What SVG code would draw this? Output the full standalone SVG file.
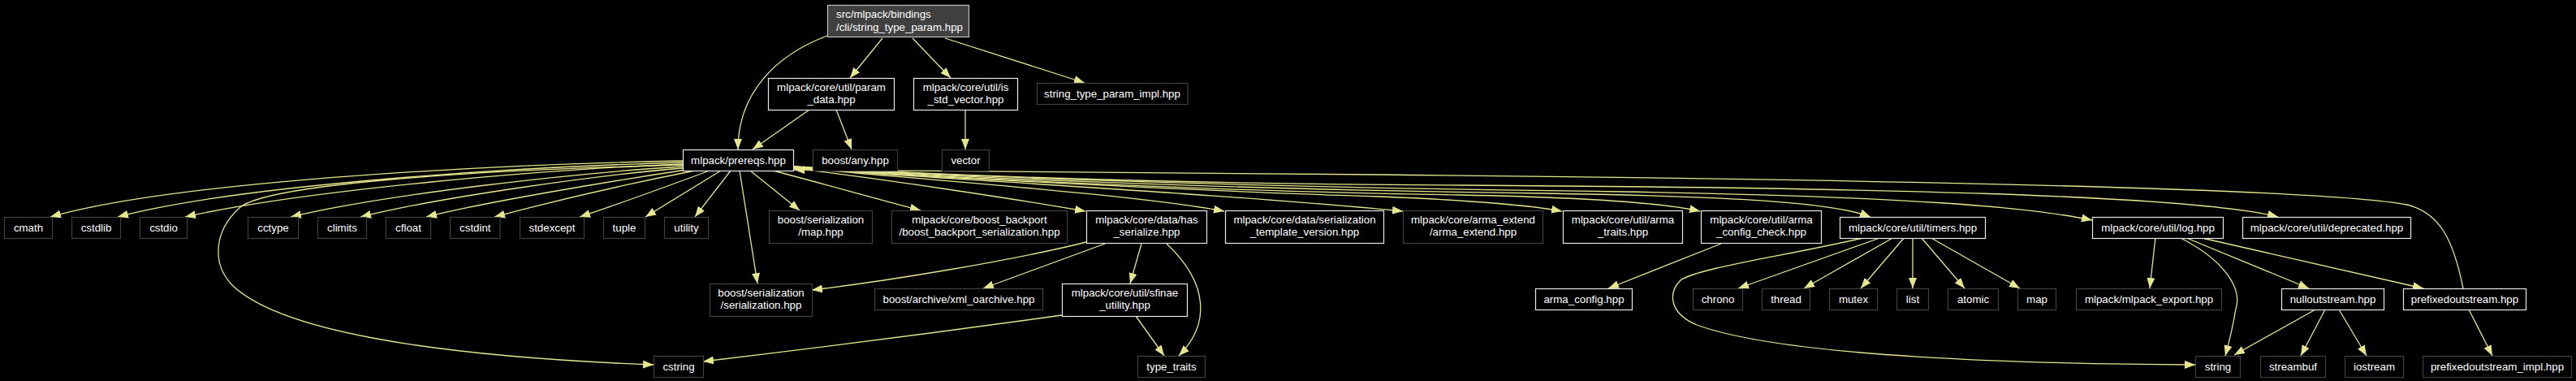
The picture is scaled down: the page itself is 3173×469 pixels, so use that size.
<svg xmlns="http://www.w3.org/2000/svg" width="3173" height="469" viewBox="0 0 3173 469">
<style>
rect{fill:#000;stroke-width:1.2}
.d rect{stroke:#e8e8e8}
.x rect{stroke:#404040}
.r rect{fill:#404040;stroke:#c0c0c0}
text{font-family:"Liberation Sans",Arial,Helvetica,sans-serif;font-size:13.3px;fill:#fff;text-anchor:middle}
.r text{text-anchor:start}
#edges path{fill:none;stroke:#e6e68f;stroke-width:1.3;marker-end:url(#ah)}
</style>
<defs>
<marker id="ah" viewBox="0 0 13 10" refX="13" refY="5" markerWidth="13" markerHeight="10" markerUnits="userSpaceOnUse" orient="auto">
<path d="M0,0 L13,5 L0,10 z" fill="#e6e68f"/>
</marker>
</defs>
<rect x="0" y="0" width="3173" height="469" style="fill:#000;stroke:none"/>
<g id="edges">
<path d="M1019,44 C955,68 909,115 909,184"/>
<path d="M1087,47 L1047,96"/>
<path d="M1124,47 L1171,96"/>
<path d="M1164,47 L1336,102"/>
<path d="M997,135 L927,184"/>
<path d="M1030,135 L1049,184"/>
<path d="M1189,135 L1189,184"/>
<path d="M841,198 C620,202 220,222 62,267"/>
<path d="M841,200 C650,205 300,226 145,267"/>
<path d="M841,202 C680,208 380,233 228,267"/>
<path d="M841,205 C720,212 480,238 358,267"/>
<path d="M841,207 C740,215 540,243 444,267"/>
<path d="M845,209 C760,222 600,248 525,267"/>
<path d="M856,210 C780,225 680,248 609,267"/>
<path d="M874,210 C820,230 760,252 714,267"/>
<path d="M888,210 L795,267"/>
<path d="M900,210 L856,267"/>
<path d="M911,210 L933,349"/>
<path d="M924,210 L985,259"/>
<path d="M952,210 C1010,225 1080,245 1134,259"/>
<path d="M977,207 C1100,222 1250,245 1337,260"/>
<path d="M977,206 C1150,222 1400,240 1508,260"/>
<path d="M977,206 C1150,220 1500,238 1728,260"/>
<path d="M977,206 C1150,219 1500,236 1700,242 C1800,246 1880,252 1924,260"/>
<path d="M977,205 C1150,218 1500,236 1800,240 C1950,243 2050,250 2094,260"/>
<path d="M977,205 C1150,217 1500,233 1900,238 C2150,242 2260,250 2304,267"/>
<path d="M977,205 C1150,216 1500,230 2000,236 C2350,242 2500,255 2577,271"/>
<path d="M977,205 C1150,215 1400,226 1800,228 C2300,231 2700,240 2806,267"/>
<path d="M841,203 C560,210 330,228 296,255 C262,285 262,325 285,350 C340,405 520,438 805,449"/>
<path d="M1338,298 C1250,320 1100,345 1000,357"/>
<path d="M1361,300 L1211,355"/>
<path d="M1406,300 L1392,349"/>
<path d="M1437,300 C1490,350 1490,400 1452,438"/>
<path d="M1399,389 L1434,438"/>
<path d="M1308,388 C1150,410 950,435 866,445"/>
<path d="M2120,300 L1981,355"/>
<path d="M2318,292 L2141,355"/>
<path d="M2333,292 L2222,355"/>
<path d="M2346,292 L2292,355"/>
<path d="M2356,292 L2356,355"/>
<path d="M2366,292 L2420,355"/>
<path d="M2377,292 L2488,355"/>
<path d="M2299,292 C2200,315 2090,330 2070,345 C2055,360 2055,385 2090,400 C2200,440 2500,448 2704,449"/>
<path d="M2655,292 L2648,355"/>
<path d="M2684,292 C2740,320 2762,355 2754,380 C2750,405 2746,420 2741,438"/>
<path d="M2691,292 L2844,355"/>
<path d="M2708,292 L2985,355"/>
<path d="M2852,381 L2752,437"/>
<path d="M2864,381 L2834,438"/>
<path d="M2881,381 L2915,438"/>
<path d="M3041,381 L3070,438"/>
<path d="M3034,355 C3022,295 3005,262 2965,252 C2850,230 2200,220 1700,215 C1400,212 1150,210 978,209"/>
</g>
<g id="n_root" class="r"><rect x="1019.5" y="6.5" width="174" height="39"/><text x="1030" y="22">src/mlpack/bindings</text><text x="1030" y="38">/cli/string_type_param.hpp</text></g>
<g id="n_param_data" class="d"><rect x="946.5" y="96.5" width="155" height="39"/><text x="1024" y="112">mlpack/core/util/param</text><text x="1024" y="127">_data.hpp</text></g>
<g id="n_is_std_vector" class="d"><rect x="1125.5" y="96.5" width="128" height="39"/><text x="1189.5" y="112">mlpack/core/util/is</text><text x="1189.5" y="127">_std_vector.hpp</text></g>
<g id="n_stp_impl" class="x"><rect x="1277.5" y="102.5" width="185.5" height="26"/><text x="1370" y="120">string_type_param_impl.hpp</text></g>
<g id="n_prereqs" class="d"><rect x="841.5" y="184.5" width="136" height="26"/><text x="909.5" y="202">mlpack/prereqs.hpp</text></g>
<g id="n_any" class="x"><rect x="1001.5" y="184.5" width="104" height="26"/><text x="1053.5" y="202">boost/any.hpp</text></g>
<g id="n_vector" class="x"><rect x="1160.5" y="184.5" width="58" height="26"/><text x="1189.5" y="202">vector</text></g>
<g id="n_cmath" class="x"><rect x="5.5" y="267.5" width="59" height="26"/><text x="35" y="285">cmath</text></g>
<g id="n_cstdlib" class="x"><rect x="88.5" y="267.5" width="60" height="26"/><text x="118.5" y="285">cstdlib</text></g>
<g id="n_cstdio" class="x"><rect x="172.5" y="267.5" width="58" height="26"/><text x="201.5" y="285">cstdio</text></g>
<g id="n_cctype" class="x"><rect x="305.5" y="267.5" width="62" height="26"/><text x="336.5" y="285">cctype</text></g>
<g id="n_climits" class="x"><rect x="391.5" y="267.5" width="60" height="26"/><text x="421.5" y="285">climits</text></g>
<g id="n_cfloat" class="x"><rect x="475.5" y="267.5" width="55" height="26"/><text x="503" y="285">cfloat</text></g>
<g id="n_cstdint" class="x"><rect x="554.5" y="267.5" width="61.5" height="26"/><text x="585.3" y="285">cstdint</text></g>
<g id="n_stdexcept" class="x"><rect x="640.5" y="267.5" width="79" height="26"/><text x="680" y="285">stdexcept</text></g>
<g id="n_tuple" class="x"><rect x="743.5" y="267.5" width="51" height="26"/><text x="769" y="285">tuple</text></g>
<g id="n_utility" class="x"><rect x="818.5" y="267.5" width="54" height="26"/><text x="845.5" y="285">utility</text></g>
<g id="n_ser_map" class="x"><rect x="947.5" y="259.5" width="127" height="40"/><text x="1011" y="275">boost/serialization</text><text x="1011" y="290">/map.hpp</text></g>
<g id="n_backport" class="x"><rect x="1098.5" y="259.5" width="216" height="40"/><text x="1206.5" y="275">mlpack/core/boost_backport</text><text x="1206.5" y="290">/boost_backport_serialization.hpp</text></g>
<g id="n_has_serialize" class="d"><rect x="1338.5" y="259.5" width="148" height="40"/><text x="1412.5" y="275">mlpack/core/data/has</text><text x="1412.5" y="290">_serialize.hpp</text></g>
<g id="n_ser_tmpl" class="d"><rect x="1509.5" y="259.5" width="195" height="40"/><text x="1607" y="275">mlpack/core/data/serialization</text><text x="1607" y="290">_template_version.hpp</text></g>
<g id="n_arma_extend" class="x"><rect x="1728.5" y="259.5" width="172" height="40"/><text x="1814.5" y="275">mlpack/core/arma_extend</text><text x="1814.5" y="290">/arma_extend.hpp</text></g>
<g id="n_arma_traits" class="d"><rect x="1925.5" y="259.5" width="147" height="40"/><text x="1999" y="275">mlpack/core/util/arma</text><text x="1999" y="290">_traits.hpp</text></g>
<g id="n_arma_config_check" class="d"><rect x="2095.5" y="259.5" width="148" height="40"/><text x="2169.5" y="275">mlpack/core/util/arma</text><text x="2169.5" y="290">_config_check.hpp</text></g>
<g id="n_timers" class="d"><rect x="2266.5" y="267.5" width="179" height="26"/><text x="2356" y="285">mlpack/core/util/timers.hpp</text></g>
<g id="n_log" class="d"><rect x="2577.5" y="267.5" width="161" height="26"/><text x="2658" y="285">mlpack/core/util/log.hpp</text></g>
<g id="n_deprecated" class="d"><rect x="2762.5" y="267.5" width="207" height="26"/><text x="2866" y="285">mlpack/core/util/deprecated.hpp</text></g>
<g id="n_serialization" class="x"><rect x="874.5" y="349.5" width="126" height="40"/><text x="937.5" y="365">boost/serialization</text><text x="937.5" y="380">/serialization.hpp</text></g>
<g id="n_xml" class="x"><rect x="1077.5" y="355.5" width="207" height="26"/><text x="1181" y="373">boost/archive/xml_oarchive.hpp</text></g>
<g id="n_sfinae" class="d"><rect x="1308.5" y="349.5" width="154" height="40"/><text x="1385.5" y="365">mlpack/core/util/sfinae</text><text x="1385.5" y="380">_utility.hpp</text></g>
<g id="n_arma_config" class="d"><rect x="1891.5" y="355.5" width="119" height="26"/><text x="1951" y="373">arma_config.hpp</text></g>
<g id="n_chrono" class="x"><rect x="2085.5" y="355.5" width="61" height="26"/><text x="2116" y="373">chrono</text></g>
<g id="n_thread" class="x"><rect x="2170.5" y="355.5" width="59" height="26"/><text x="2200" y="373">thread</text></g>
<g id="n_mutex" class="x"><rect x="2253.5" y="355.5" width="59" height="26"/><text x="2283" y="373">mutex</text></g>
<g id="n_list" class="x"><rect x="2336.5" y="355.5" width="39" height="26"/><text x="2356" y="373">list</text></g>
<g id="n_atomic" class="x"><rect x="2399.5" y="355.5" width="62" height="26"/><text x="2430.5" y="373">atomic</text></g>
<g id="n_map" class="x"><rect x="2485.5" y="355.5" width="47" height="26"/><text x="2509" y="373">map</text></g>
<g id="n_mlpack_export" class="x"><rect x="2557.5" y="355.5" width="179" height="26"/><text x="2647" y="373">mlpack/mlpack_export.hpp</text></g>
<g id="n_nulloutstream" class="d"><rect x="2810.5" y="355.5" width="126" height="26"/><text x="2873.5" y="373">nulloutstream.hpp</text></g>
<g id="n_prefixedoutstream" class="d"><rect x="2960.5" y="355.5" width="151" height="26"/><text x="3036" y="373">prefixedoutstream.hpp</text></g>
<g id="n_cstring" class="x"><rect x="805.5" y="438.5" width="61" height="26"/><text x="836" y="456">cstring</text></g>
<g id="n_type_traits" class="x"><rect x="1401.5" y="438.5" width="83" height="26"/><text x="1443" y="456">type_traits</text></g>
<g id="n_string" class="x"><rect x="2704.5" y="438.5" width="55" height="26"/><text x="2732" y="456">string</text></g>
<g id="n_streambuf" class="x"><rect x="2784.5" y="438.5" width="80" height="26"/><text x="2824.5" y="456">streambuf</text></g>
<g id="n_iostream" class="x"><rect x="2888.5" y="438.5" width="72" height="26"/><text x="2924.5" y="456">iostream</text></g>
<g id="n_pos_impl" class="x"><rect x="2984.5" y="438.5" width="183" height="26"/><text x="3076" y="456">prefixedoutstream_impl.hpp</text></g>
</svg>
